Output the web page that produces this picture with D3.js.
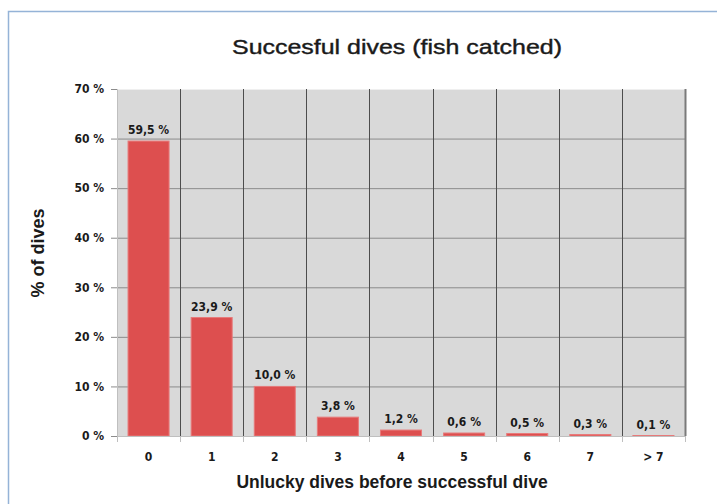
<!DOCTYPE html>
<html>
<head>
<meta charset="utf-8">
<script src="https://cdn.jsdelivr.net/npm/d3@7"></script>
<style>
  body { margin: 0; background: #fff; }
  svg text { fill: #1a1a1a; }
</style>
</head>
<body>
<div id="container"></div>
<script>
// share of successful dives by number of unlucky dives before it

const categories = ["0", "1", "2", "3", "4", "5", "6", "7", "> 7"];
const values = [59.5, 23.9, 10.0, 3.8, 1.2, 0.6, 0.5, 0.3, 0.1];
const yTicks = [0, 10, 20, 30, 40, 50, 60, 70];

const width = 717,
      height = 504;

const margin = {top: 89, right: 32, bottom: 68, left: 117};

const labelFont = "bold 12px 'DejaVu Sans Condensed', 'DejaVu Sans', sans-serif";

const svg = d3.select("#container").append("svg")
    .attr("width", width)
    .attr("height", height);

// chart frame (light blue, only top and left visible)
svg.append("path")
    .attr("d", "M8.5," + height + "V11.5H" + width)
    .attr("fill", "none")
    .attr("stroke", "#95b3d7")
    .attr("stroke-width", 1.5);

const x = d3.scaleBand()
    .domain(categories)
    .range([margin.left, width - margin.right])
    .paddingInner(0.35)
    .paddingOuter(0.175);

const y = d3.scaleLinear()
    .domain([0, 70])
    .range([height - margin.bottom, margin.top]);

const step = x.step();
const x0 = margin.left, x1 = width - margin.right;

// plot background
svg.append("rect")
    .attr("x", x0)
    .attr("y", y(70))
    .attr("width", x1 - x0)
    .attr("height", y(0) - y(70))
    .attr("fill", "#d9d9d9");

// horizontal gridlines
svg.append("g").selectAll("line")
    .data(yTicks.slice(1))
    .enter().append("line")
    .attr("x1", x0).attr("x2", x1)
    .attr("y1", d => y(d) + 0.5).attr("y2", d => y(d) + 0.5)
    .attr("stroke", d => d === 70 ? "#efefef" : "#8c8c8c")
    .attr("stroke-width", 1);

// vertical gridlines between categories
svg.append("g").selectAll("line")
    .data(d3.range(1, categories.length + 1))
    .enter().append("line")
    .attr("x1", i => Math.round(x0 + i * step) + 0.5)
    .attr("x2", i => Math.round(x0 + i * step) + 0.5)
    .attr("y1", y(70)).attr("y2", y(0))
    .attr("stroke", i => i === categories.length ? "#7a7a7a" : "#4d4d4d")
    .attr("stroke-width", i => i === categories.length ? 2 : 1);

// bars
svg.append("g").selectAll("rect")
    .data(values)
    .enter().append("rect")
    .attr("x", (d, i) => x(categories[i]))
    .attr("y", d => y(d))
    .attr("width", x.bandwidth())
    .attr("height", d => y(0) - y(d))
    .attr("fill", "#dd4f4f")
    .attr("stroke", "#e77a7a")
    .attr("stroke-width", 1);

// value labels
svg.append("g").selectAll("text")
    .data(values)
    .enter().append("text")
    .attr("x", (d, i) => x(categories[i]) + x.bandwidth() / 2)
    .attr("y", d => y(d) - 7)
    .attr("text-anchor", "middle")
    .style("font", labelFont)
    .text(d => d.toFixed(1).replace(".", ",") + " %");

// y axis
const yAxis = d3.axisLeft(y)
    .tickValues(yTicks)
    .tickSize(6)
    .tickPadding(7)
    .tickFormat(d => d + " %");

const yg = svg.append("g")
    .attr("transform", "translate(" + x0 + ",0)")
    .call(yAxis);
yg.select(".domain").attr("stroke", "#bfbfbf");
yg.selectAll(".tick line").attr("stroke", "#8c8c8c");
yg.selectAll(".tick text")
    .style("font", labelFont)
    .attr("fill", "#1a1a1a");

// x axis: ticks at category boundaries
svg.append("g").selectAll("line")
    .data(d3.range(0, categories.length + 1))
    .enter().append("line")
    .attr("x1", i => Math.round(x0 + i * step) + 0.5)
    .attr("x2", i => Math.round(x0 + i * step) + 0.5)
    .attr("y1", y(0)).attr("y2", y(0) + 6)
    .attr("stroke", "#bfbfbf");

svg.append("line")
    .attr("x1", x0).attr("x2", x1)
    .attr("y1", y(0) + 0.5).attr("y2", y(0) + 0.5)
    .attr("stroke", "#bfbfbf");

svg.append("g").selectAll("text")
    .data(categories)
    .enter().append("text")
    .attr("x", d => x(d) + x.bandwidth() / 2)
    .attr("y", y(0) + 25)
    .attr("text-anchor", "middle")
    .style("font", labelFont)
    .text(d => d);

// titles
svg.append("text")
    .attr("x", 397)
    .attr("y", 54)
    .attr("text-anchor", "middle")
    .attr("textLength", 330)
    .attr("lengthAdjust", "spacingAndGlyphs")
    .attr("stroke", "#1a1a1a")
    .attr("stroke-width", 0.4)
    .style("font", "21px 'Liberation Sans', Arial, sans-serif")
    .text("Succesful dives (fish catched)");

svg.append("text")
    .attr("x", 392)
    .attr("y", 488)
    .attr("text-anchor", "middle")
    .style("font", "bold 17.5px 'Liberation Sans', Arial, sans-serif")
    .text("Unlucky dives before successful dive");

svg.append("text")
    .attr("transform", "translate(44,253) rotate(-90)")
    .attr("text-anchor", "middle")
    .style("font", "bold 18px 'Liberation Sans', Arial, sans-serif")
    .text("% of dives");
</script>
</body>
</html>
